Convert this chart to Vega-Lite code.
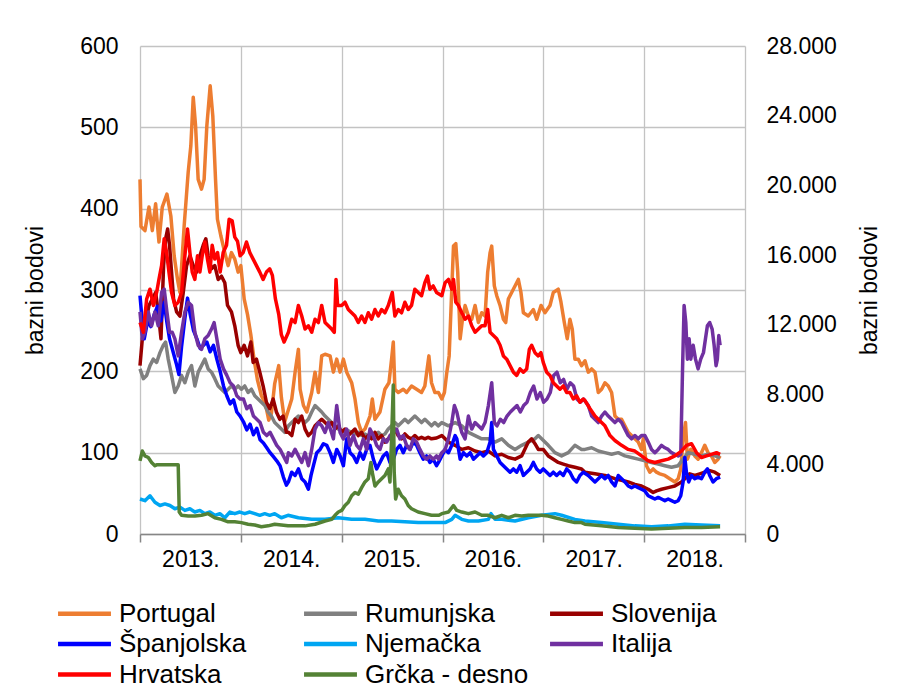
{
"$schema": "https://vega.github.io/schema/vega-lite/v6.json",
"width": 605,
"height": 488,
"padding": {"left": 24, "top": 35, "right": 5, "bottom": 5},
"background": "white",
"config": {"view": {"stroke": null}, "font": "Liberation Sans", "axis": {"labelFont": "Liberation Sans", "titleFont": "Liberation Sans", "labelColor": "black", "titleColor": "black", "titleFontWeight": "normal"}, "legend": {"labelFont": "Liberation Sans"}},
"datasets": {
"left": [
{"s":"Portugal","t":2013.000,"v":436},{"s":"Portugal","t":2013.010,"v":378},{"s":"Portugal","t":2013.049,"v":373},{"s":"Portugal","t":2013.089,"v":402},{"s":"Portugal","t":2013.122,"v":373},{"s":"Portugal","t":2013.155,"v":406},{"s":"Portugal","t":2013.188,"v":359},{"s":"Portugal","t":2013.221,"v":402},{"s":"Portugal","t":2013.267,"v":418},{"s":"Portugal","t":2013.306,"v":391},{"s":"Portugal","t":2013.339,"v":342},{"s":"Portugal","t":2013.372,"v":313},{"s":"Portugal","t":2013.396,"v":297},{"s":"Portugal","t":2013.438,"v":379},{"s":"Portugal","t":2013.478,"v":445},{"s":"Portugal","t":2013.504,"v":477},{"s":"Portugal","t":2013.528,"v":537},{"s":"Portugal","t":2013.551,"v":502},{"s":"Portugal","t":2013.577,"v":436},{"s":"Portugal","t":2013.610,"v":424},{"s":"Portugal","t":2013.636,"v":436},{"s":"Portugal","t":2013.663,"v":502},{"s":"Portugal","t":2013.696,"v":551},{"s":"Portugal","t":2013.722,"v":514},{"s":"Portugal","t":2013.749,"v":436},{"s":"Portugal","t":2013.768,"v":387},{"s":"Portugal","t":2013.801,"v":367},{"s":"Portugal","t":2013.841,"v":346},{"s":"Portugal","t":2013.874,"v":330},{"s":"Portugal","t":2013.907,"v":346},{"s":"Portugal","t":2013.940,"v":338},{"s":"Portugal","t":2013.973,"v":322},{"s":"Portugal","t":2014.000,"v":330},{"s":"Portugal","t":2014.033,"v":289},{"s":"Portugal","t":2014.066,"v":270},{"s":"Portugal","t":2014.099,"v":245},{"s":"Portugal","t":2014.131,"v":215},{"s":"Portugal","t":2014.164,"v":190},{"s":"Portugal","t":2014.204,"v":170},{"s":"Portugal","t":2014.244,"v":160},{"s":"Portugal","t":2014.277,"v":140},{"s":"Portugal","t":2014.303,"v":148},{"s":"Portugal","t":2014.336,"v":185},{"s":"Portugal","t":2014.376,"v":207},{"s":"Portugal","t":2014.402,"v":168},{"s":"Portugal","t":2014.435,"v":138},{"s":"Portugal","t":2014.505,"v":166},{"s":"Portugal","t":2014.538,"v":199},{"s":"Portugal","t":2014.571,"v":227},{"s":"Portugal","t":2014.588,"v":178},{"s":"Portugal","t":2014.621,"v":158},{"s":"Portugal","t":2014.654,"v":150},{"s":"Portugal","t":2014.703,"v":174},{"s":"Portugal","t":2014.736,"v":199},{"s":"Portugal","t":2014.769,"v":174},{"s":"Portugal","t":2014.802,"v":219},{"s":"Portugal","t":2014.835,"v":221},{"s":"Portugal","t":2014.885,"v":219},{"s":"Portugal","t":2014.918,"v":199},{"s":"Portugal","t":2014.951,"v":215},{"s":"Portugal","t":2014.984,"v":199},{"s":"Portugal","t":2015.017,"v":215},{"s":"Portugal","t":2015.050,"v":199},{"s":"Portugal","t":2015.099,"v":186},{"s":"Portugal","t":2015.132,"v":166},{"s":"Portugal","t":2015.165,"v":137},{"s":"Portugal","t":2015.198,"v":125},{"s":"Portugal","t":2015.231,"v":129},{"s":"Portugal","t":2015.281,"v":145},{"s":"Portugal","t":2015.304,"v":166},{"s":"Portugal","t":2015.330,"v":141},{"s":"Portugal","t":2015.380,"v":150},{"s":"Portugal","t":2015.429,"v":178},{"s":"Portugal","t":2015.469,"v":186},{"s":"Portugal","t":2015.495,"v":215},{"s":"Portugal","t":2015.512,"v":236},{"s":"Portugal","t":2015.528,"v":178},{"s":"Portugal","t":2015.561,"v":174},{"s":"Portugal","t":2015.611,"v":178},{"s":"Portugal","t":2015.644,"v":174},{"s":"Portugal","t":2015.693,"v":182},{"s":"Portugal","t":2015.743,"v":178},{"s":"Portugal","t":2015.792,"v":174},{"s":"Portugal","t":2015.825,"v":182},{"s":"Portugal","t":2015.865,"v":219},{"s":"Portugal","t":2015.891,"v":186},{"s":"Portugal","t":2015.924,"v":174},{"s":"Portugal","t":2015.960,"v":174},{"s":"Portugal","t":2015.993,"v":166},{"s":"Portugal","t":2016.019,"v":174},{"s":"Portugal","t":2016.043,"v":199},{"s":"Portugal","t":2016.066,"v":219},{"s":"Portugal","t":2016.092,"v":301},{"s":"Portugal","t":2016.109,"v":354},{"s":"Portugal","t":2016.132,"v":357},{"s":"Portugal","t":2016.151,"v":322},{"s":"Portugal","t":2016.175,"v":240},{"s":"Portugal","t":2016.198,"v":264},{"s":"Portugal","t":2016.224,"v":281},{"s":"Portugal","t":2016.257,"v":268},{"s":"Portugal","t":2016.290,"v":264},{"s":"Portugal","t":2016.323,"v":281},{"s":"Portugal","t":2016.356,"v":260},{"s":"Portugal","t":2016.389,"v":272},{"s":"Portugal","t":2016.422,"v":268},{"s":"Portugal","t":2016.448,"v":322},{"s":"Portugal","t":2016.472,"v":346},{"s":"Portugal","t":2016.488,"v":354},{"s":"Portugal","t":2016.514,"v":305},{"s":"Portugal","t":2016.538,"v":293},{"s":"Portugal","t":2016.571,"v":281},{"s":"Portugal","t":2016.604,"v":264},{"s":"Portugal","t":2016.627,"v":260},{"s":"Portugal","t":2016.653,"v":289},{"s":"Portugal","t":2016.686,"v":297},{"s":"Portugal","t":2016.719,"v":305},{"s":"Portugal","t":2016.752,"v":313},{"s":"Portugal","t":2016.778,"v":297},{"s":"Portugal","t":2016.802,"v":272},{"s":"Portugal","t":2016.851,"v":268},{"s":"Portugal","t":2016.901,"v":276},{"s":"Portugal","t":2016.934,"v":264},{"s":"Portugal","t":2016.977,"v":281},{"s":"Portugal","t":2017.016,"v":272},{"s":"Portugal","t":2017.066,"v":281},{"s":"Portugal","t":2017.099,"v":297},{"s":"Portugal","t":2017.148,"v":301},{"s":"Portugal","t":2017.175,"v":285},{"s":"Portugal","t":2017.208,"v":260},{"s":"Portugal","t":2017.237,"v":240},{"s":"Portugal","t":2017.264,"v":264},{"s":"Portugal","t":2017.287,"v":252},{"s":"Portugal","t":2017.313,"v":215},{"s":"Portugal","t":2017.346,"v":215},{"s":"Portugal","t":2017.379,"v":207},{"s":"Portugal","t":2017.413,"v":213},{"s":"Portugal","t":2017.446,"v":199},{"s":"Portugal","t":2017.479,"v":203},{"s":"Portugal","t":2017.512,"v":199},{"s":"Portugal","t":2017.545,"v":174},{"s":"Portugal","t":2017.578,"v":178},{"s":"Portugal","t":2017.611,"v":186},{"s":"Portugal","t":2017.644,"v":182},{"s":"Portugal","t":2017.677,"v":174},{"s":"Portugal","t":2017.710,"v":145},{"s":"Portugal","t":2017.743,"v":141},{"s":"Portugal","t":2017.776,"v":141},{"s":"Portugal","t":2017.809,"v":133},{"s":"Portugal","t":2017.842,"v":125},{"s":"Portugal","t":2017.875,"v":121},{"s":"Portugal","t":2017.908,"v":117},{"s":"Portugal","t":2017.941,"v":113},{"s":"Portugal","t":2017.974,"v":104},{"s":"Portugal","t":2017.991,"v":117},{"s":"Portugal","t":2018.023,"v":84},{"s":"Portugal","t":2018.056,"v":76},{"s":"Portugal","t":2018.089,"v":80},{"s":"Portugal","t":2018.122,"v":76},{"s":"Portugal","t":2018.155,"v":74},{"s":"Portugal","t":2018.205,"v":72},{"s":"Portugal","t":2018.254,"v":68},{"s":"Portugal","t":2018.304,"v":64},{"s":"Portugal","t":2018.337,"v":68},{"s":"Portugal","t":2018.363,"v":80},{"s":"Portugal","t":2018.386,"v":117},{"s":"Portugal","t":2018.410,"v":137},{"s":"Portugal","t":2018.429,"v":92},{"s":"Portugal","t":2018.462,"v":104},{"s":"Portugal","t":2018.502,"v":96},{"s":"Portugal","t":2018.535,"v":92},{"s":"Portugal","t":2018.568,"v":100},{"s":"Portugal","t":2018.601,"v":109},{"s":"Portugal","t":2018.634,"v":100},{"s":"Portugal","t":2018.667,"v":96},{"s":"Portugal","t":2018.700,"v":88},{"s":"Portugal","t":2018.733,"v":92},{"s":"Portugal","t":2018.753,"v":96},
{"s":"Rumunjska","t":2013.000,"v":203},{"s":"Rumunjska","t":2013.033,"v":191},{"s":"Rumunjska","t":2013.066,"v":195},{"s":"Rumunjska","t":2013.099,"v":207},{"s":"Rumunjska","t":2013.132,"v":215},{"s":"Rumunjska","t":2013.165,"v":211},{"s":"Rumunjska","t":2013.198,"v":223},{"s":"Rumunjska","t":2013.231,"v":232},{"s":"Rumunjska","t":2013.254,"v":236},{"s":"Rumunjska","t":2013.280,"v":215},{"s":"Rumunjska","t":2013.313,"v":195},{"s":"Rumunjska","t":2013.346,"v":174},{"s":"Rumunjska","t":2013.379,"v":182},{"s":"Rumunjska","t":2013.412,"v":195},{"s":"Rumunjska","t":2013.445,"v":186},{"s":"Rumunjska","t":2013.478,"v":199},{"s":"Rumunjska","t":2013.511,"v":207},{"s":"Rumunjska","t":2013.544,"v":182},{"s":"Rumunjska","t":2013.577,"v":199},{"s":"Rumunjska","t":2013.610,"v":207},{"s":"Rumunjska","t":2013.643,"v":215},{"s":"Rumunjska","t":2013.676,"v":203},{"s":"Rumunjska","t":2013.709,"v":199},{"s":"Rumunjska","t":2013.742,"v":191},{"s":"Rumunjska","t":2013.775,"v":182},{"s":"Rumunjska","t":2013.808,"v":178},{"s":"Rumunjska","t":2013.841,"v":174},{"s":"Rumunjska","t":2013.874,"v":178},{"s":"Rumunjska","t":2013.907,"v":182},{"s":"Rumunjska","t":2013.940,"v":178},{"s":"Rumunjska","t":2013.973,"v":182},{"s":"Rumunjska","t":2014.006,"v":178},{"s":"Rumunjska","t":2014.039,"v":182},{"s":"Rumunjska","t":2014.072,"v":174},{"s":"Rumunjska","t":2014.105,"v":178},{"s":"Rumunjska","t":2014.138,"v":170},{"s":"Rumunjska","t":2014.171,"v":166},{"s":"Rumunjska","t":2014.204,"v":162},{"s":"Rumunjska","t":2014.237,"v":158},{"s":"Rumunjska","t":2014.270,"v":150},{"s":"Rumunjska","t":2014.303,"v":145},{"s":"Rumunjska","t":2014.336,"v":137},{"s":"Rumunjska","t":2014.369,"v":133},{"s":"Rumunjska","t":2014.402,"v":129},{"s":"Rumunjska","t":2014.435,"v":125},{"s":"Rumunjska","t":2014.472,"v":133},{"s":"Rumunjska","t":2014.505,"v":137},{"s":"Rumunjska","t":2014.538,"v":141},{"s":"Rumunjska","t":2014.571,"v":145},{"s":"Rumunjska","t":2014.604,"v":141},{"s":"Rumunjska","t":2014.637,"v":137},{"s":"Rumunjska","t":2014.670,"v":141},{"s":"Rumunjska","t":2014.703,"v":150},{"s":"Rumunjska","t":2014.736,"v":158},{"s":"Rumunjska","t":2014.769,"v":154},{"s":"Rumunjska","t":2014.802,"v":150},{"s":"Rumunjska","t":2014.835,"v":145},{"s":"Rumunjska","t":2014.868,"v":141},{"s":"Rumunjska","t":2014.901,"v":137},{"s":"Rumunjska","t":2014.934,"v":133},{"s":"Rumunjska","t":2014.967,"v":129},{"s":"Rumunjska","t":2015.000,"v":127},{"s":"Rumunjska","t":2015.033,"v":125},{"s":"Rumunjska","t":2015.066,"v":127},{"s":"Rumunjska","t":2015.099,"v":125},{"s":"Rumunjska","t":2015.132,"v":123},{"s":"Rumunjska","t":2015.165,"v":125},{"s":"Rumunjska","t":2015.198,"v":121},{"s":"Rumunjska","t":2015.231,"v":123},{"s":"Rumunjska","t":2015.264,"v":121},{"s":"Rumunjska","t":2015.297,"v":119},{"s":"Rumunjska","t":2015.330,"v":121},{"s":"Rumunjska","t":2015.363,"v":125},{"s":"Rumunjska","t":2015.396,"v":121},{"s":"Rumunjska","t":2015.429,"v":123},{"s":"Rumunjska","t":2015.462,"v":129},{"s":"Rumunjska","t":2015.495,"v":133},{"s":"Rumunjska","t":2015.528,"v":137},{"s":"Rumunjska","t":2015.561,"v":133},{"s":"Rumunjska","t":2015.594,"v":137},{"s":"Rumunjska","t":2015.627,"v":141},{"s":"Rumunjska","t":2015.660,"v":137},{"s":"Rumunjska","t":2015.693,"v":141},{"s":"Rumunjska","t":2015.726,"v":145},{"s":"Rumunjska","t":2015.759,"v":141},{"s":"Rumunjska","t":2015.792,"v":137},{"s":"Rumunjska","t":2015.825,"v":141},{"s":"Rumunjska","t":2015.858,"v":137},{"s":"Rumunjska","t":2015.891,"v":133},{"s":"Rumunjska","t":2015.924,"v":137},{"s":"Rumunjska","t":2015.957,"v":133},{"s":"Rumunjska","t":2015.993,"v":137},{"s":"Rumunjska","t":2016.059,"v":133},{"s":"Rumunjska","t":2016.125,"v":137},{"s":"Rumunjska","t":2016.191,"v":133},{"s":"Rumunjska","t":2016.257,"v":125},{"s":"Rumunjska","t":2016.323,"v":121},{"s":"Rumunjska","t":2016.389,"v":117},{"s":"Rumunjska","t":2016.455,"v":117},{"s":"Rumunjska","t":2016.521,"v":113},{"s":"Rumunjska","t":2016.587,"v":117},{"s":"Rumunjska","t":2016.653,"v":109},{"s":"Rumunjska","t":2016.719,"v":104},{"s":"Rumunjska","t":2016.785,"v":109},{"s":"Rumunjska","t":2016.851,"v":113},{"s":"Rumunjska","t":2016.917,"v":117},{"s":"Rumunjska","t":2016.950,"v":121},{"s":"Rumunjska","t":2016.983,"v":117},{"s":"Rumunjska","t":2017.049,"v":109},{"s":"Rumunjska","t":2017.115,"v":100},{"s":"Rumunjska","t":2017.181,"v":96},{"s":"Rumunjska","t":2017.247,"v":100},{"s":"Rumunjska","t":2017.313,"v":109},{"s":"Rumunjska","t":2017.379,"v":104},{"s":"Rumunjska","t":2017.413,"v":104},{"s":"Rumunjska","t":2017.479,"v":106},{"s":"Rumunjska","t":2017.545,"v":102},{"s":"Rumunjska","t":2017.611,"v":100},{"s":"Rumunjska","t":2017.677,"v":98},{"s":"Rumunjska","t":2017.743,"v":100},{"s":"Rumunjska","t":2017.809,"v":96},{"s":"Rumunjska","t":2017.875,"v":94},{"s":"Rumunjska","t":2017.941,"v":92},{"s":"Rumunjska","t":2018.007,"v":90},{"s":"Rumunjska","t":2018.073,"v":88},{"s":"Rumunjska","t":2018.139,"v":86},{"s":"Rumunjska","t":2018.205,"v":84},{"s":"Rumunjska","t":2018.271,"v":82},{"s":"Rumunjska","t":2018.337,"v":84},{"s":"Rumunjska","t":2018.386,"v":92},{"s":"Rumunjska","t":2018.436,"v":100},{"s":"Rumunjska","t":2018.502,"v":98},{"s":"Rumunjska","t":2018.568,"v":96},{"s":"Rumunjska","t":2018.634,"v":98},{"s":"Rumunjska","t":2018.700,"v":96},{"s":"Rumunjska","t":2018.753,"v":94},
{"s":"Slovenija","t":2013.000,"v":207},{"s":"Slovenija","t":2013.023,"v":240},{"s":"Slovenija","t":2013.056,"v":260},{"s":"Slovenija","t":2013.089,"v":281},{"s":"Slovenija","t":2013.122,"v":289},{"s":"Slovenija","t":2013.155,"v":297},{"s":"Slovenija","t":2013.181,"v":273},{"s":"Slovenija","t":2013.208,"v":240},{"s":"Slovenija","t":2013.234,"v":330},{"s":"Slovenija","t":2013.254,"v":363},{"s":"Slovenija","t":2013.274,"v":375},{"s":"Slovenija","t":2013.293,"v":355},{"s":"Slovenija","t":2013.313,"v":322},{"s":"Slovenija","t":2013.333,"v":289},{"s":"Slovenija","t":2013.363,"v":273},{"s":"Slovenija","t":2013.396,"v":268},{"s":"Slovenija","t":2013.429,"v":297},{"s":"Slovenija","t":2013.462,"v":330},{"s":"Slovenija","t":2013.495,"v":342},{"s":"Slovenija","t":2013.528,"v":330},{"s":"Slovenija","t":2013.561,"v":322},{"s":"Slovenija","t":2013.594,"v":342},{"s":"Slovenija","t":2013.627,"v":355},{"s":"Slovenija","t":2013.653,"v":363},{"s":"Slovenija","t":2013.676,"v":342},{"s":"Slovenija","t":2013.709,"v":326},{"s":"Slovenija","t":2013.742,"v":330},{"s":"Slovenija","t":2013.775,"v":313},{"s":"Slovenija","t":2013.808,"v":317},{"s":"Slovenija","t":2013.841,"v":309},{"s":"Slovenija","t":2013.868,"v":281},{"s":"Slovenija","t":2013.907,"v":273},{"s":"Slovenija","t":2013.940,"v":256},{"s":"Slovenija","t":2013.973,"v":232},{"s":"Slovenija","t":2014.000,"v":223},{"s":"Slovenija","t":2014.033,"v":232},{"s":"Slovenija","t":2014.066,"v":219},{"s":"Slovenija","t":2014.099,"v":236},{"s":"Slovenija","t":2014.122,"v":211},{"s":"Slovenija","t":2014.155,"v":215},{"s":"Slovenija","t":2014.188,"v":199},{"s":"Slovenija","t":2014.221,"v":182},{"s":"Slovenija","t":2014.254,"v":162},{"s":"Slovenija","t":2014.287,"v":154},{"s":"Slovenija","t":2014.320,"v":166},{"s":"Slovenija","t":2014.353,"v":150},{"s":"Slovenija","t":2014.386,"v":141},{"s":"Slovenija","t":2014.419,"v":145},{"s":"Slovenija","t":2014.452,"v":125},{"s":"Slovenija","t":2014.472,"v":125},{"s":"Slovenija","t":2014.505,"v":121},{"s":"Slovenija","t":2014.538,"v":141},{"s":"Slovenija","t":2014.571,"v":137},{"s":"Slovenija","t":2014.604,"v":145},{"s":"Slovenija","t":2014.637,"v":129},{"s":"Slovenija","t":2014.670,"v":121},{"s":"Slovenija","t":2014.703,"v":125},{"s":"Slovenija","t":2014.736,"v":133},{"s":"Slovenija","t":2014.769,"v":137},{"s":"Slovenija","t":2014.802,"v":141},{"s":"Slovenija","t":2014.835,"v":137},{"s":"Slovenija","t":2014.868,"v":133},{"s":"Slovenija","t":2014.901,"v":137},{"s":"Slovenija","t":2014.934,"v":129},{"s":"Slovenija","t":2014.967,"v":133},{"s":"Slovenija","t":2015.000,"v":125},{"s":"Slovenija","t":2015.033,"v":129},{"s":"Slovenija","t":2015.066,"v":121},{"s":"Slovenija","t":2015.099,"v":125},{"s":"Slovenija","t":2015.132,"v":129},{"s":"Slovenija","t":2015.165,"v":121},{"s":"Slovenija","t":2015.198,"v":125},{"s":"Slovenija","t":2015.231,"v":117},{"s":"Slovenija","t":2015.264,"v":121},{"s":"Slovenija","t":2015.297,"v":117},{"s":"Slovenija","t":2015.330,"v":125},{"s":"Slovenija","t":2015.363,"v":117},{"s":"Slovenija","t":2015.396,"v":121},{"s":"Slovenija","t":2015.429,"v":113},{"s":"Slovenija","t":2015.462,"v":117},{"s":"Slovenija","t":2015.495,"v":119},{"s":"Slovenija","t":2015.528,"v":129},{"s":"Slovenija","t":2015.561,"v":121},{"s":"Slovenija","t":2015.594,"v":117},{"s":"Slovenija","t":2015.627,"v":123},{"s":"Slovenija","t":2015.660,"v":119},{"s":"Slovenija","t":2015.693,"v":117},{"s":"Slovenija","t":2015.726,"v":121},{"s":"Slovenija","t":2015.759,"v":117},{"s":"Slovenija","t":2015.792,"v":119},{"s":"Slovenija","t":2015.825,"v":117},{"s":"Slovenija","t":2015.858,"v":119},{"s":"Slovenija","t":2015.891,"v":117},{"s":"Slovenija","t":2015.941,"v":118},{"s":"Slovenija","t":2015.993,"v":121},{"s":"Slovenija","t":2016.059,"v":113},{"s":"Slovenija","t":2016.125,"v":109},{"s":"Slovenija","t":2016.191,"v":104},{"s":"Slovenija","t":2016.257,"v":106},{"s":"Slovenija","t":2016.323,"v":102},{"s":"Slovenija","t":2016.389,"v":100},{"s":"Slovenija","t":2016.455,"v":102},{"s":"Slovenija","t":2016.521,"v":96},{"s":"Slovenija","t":2016.587,"v":98},{"s":"Slovenija","t":2016.653,"v":94},{"s":"Slovenija","t":2016.719,"v":92},{"s":"Slovenija","t":2016.785,"v":96},{"s":"Slovenija","t":2016.851,"v":113},{"s":"Slovenija","t":2016.884,"v":117},{"s":"Slovenija","t":2016.917,"v":111},{"s":"Slovenija","t":2016.950,"v":104},{"s":"Slovenija","t":2016.999,"v":104},{"s":"Slovenija","t":2017.049,"v":96},{"s":"Slovenija","t":2017.099,"v":92},{"s":"Slovenija","t":2017.148,"v":88},{"s":"Slovenija","t":2017.198,"v":86},{"s":"Slovenija","t":2017.247,"v":84},{"s":"Slovenija","t":2017.313,"v":82},{"s":"Slovenija","t":2017.379,"v":80},{"s":"Slovenija","t":2017.413,"v":76},{"s":"Slovenija","t":2017.512,"v":74},{"s":"Slovenija","t":2017.611,"v":72},{"s":"Slovenija","t":2017.710,"v":68},{"s":"Slovenija","t":2017.776,"v":66},{"s":"Slovenija","t":2017.842,"v":64},{"s":"Slovenija","t":2017.908,"v":61},{"s":"Slovenija","t":2017.974,"v":59},{"s":"Slovenija","t":2018.040,"v":55},{"s":"Slovenija","t":2018.089,"v":51},{"s":"Slovenija","t":2018.122,"v":53},{"s":"Slovenija","t":2018.172,"v":55},{"s":"Slovenija","t":2018.238,"v":57},{"s":"Slovenija","t":2018.304,"v":59},{"s":"Slovenija","t":2018.370,"v":64},{"s":"Slovenija","t":2018.403,"v":68},{"s":"Slovenija","t":2018.452,"v":74},{"s":"Slovenija","t":2018.502,"v":72},{"s":"Slovenija","t":2018.551,"v":74},{"s":"Slovenija","t":2018.601,"v":76},{"s":"Slovenija","t":2018.651,"v":78},{"s":"Slovenija","t":2018.700,"v":76},{"s":"Slovenija","t":2018.753,"v":72},
{"s":"Španjolska","t":2013.000,"v":293},{"s":"Španjolska","t":2013.016,"v":270},{"s":"Španjolska","t":2013.042,"v":240},{"s":"Španjolska","t":2013.076,"v":262},{"s":"Španjolska","t":2013.108,"v":255},{"s":"Španjolska","t":2013.141,"v":270},{"s":"Španjolska","t":2013.174,"v":280},{"s":"Španjolska","t":2013.207,"v":262},{"s":"Španjolska","t":2013.240,"v":285},{"s":"Španjolska","t":2013.267,"v":260},{"s":"Španjolska","t":2013.293,"v":240},{"s":"Španjolska","t":2013.326,"v":225},{"s":"Španjolska","t":2013.359,"v":210},{"s":"Španjolska","t":2013.386,"v":196},{"s":"Španjolska","t":2013.412,"v":230},{"s":"Španjolska","t":2013.445,"v":265},{"s":"Španjolska","t":2013.471,"v":290},{"s":"Španjolska","t":2013.498,"v":270},{"s":"Španjolska","t":2013.531,"v":250},{"s":"Španjolska","t":2013.564,"v":240},{"s":"Španjolska","t":2013.597,"v":228},{"s":"Španjolska","t":2013.630,"v":232},{"s":"Španjolska","t":2013.663,"v":236},{"s":"Španjolska","t":2013.696,"v":224},{"s":"Španjolska","t":2013.729,"v":232},{"s":"Španjolska","t":2013.762,"v":215},{"s":"Španjolska","t":2013.795,"v":200},{"s":"Španjolska","t":2013.828,"v":182},{"s":"Španjolska","t":2013.861,"v":170},{"s":"Španjolska","t":2013.894,"v":160},{"s":"Španjolska","t":2013.927,"v":165},{"s":"Španjolska","t":2013.960,"v":150},{"s":"Španjolska","t":2013.993,"v":145},{"s":"Španjolska","t":2014.026,"v":138},{"s":"Španjolska","t":2014.059,"v":128},{"s":"Španjolska","t":2014.092,"v":135},{"s":"Španjolska","t":2014.125,"v":122},{"s":"Španjolska","t":2014.158,"v":130},{"s":"Španjolska","t":2014.191,"v":116},{"s":"Španjolska","t":2014.224,"v":112},{"s":"Španjolska","t":2014.257,"v":106},{"s":"Španjolska","t":2014.290,"v":100},{"s":"Španjolska","t":2014.323,"v":95},{"s":"Španjolska","t":2014.356,"v":90},{"s":"Španjolska","t":2014.389,"v":84},{"s":"Španjolska","t":2014.422,"v":70},{"s":"Španjolska","t":2014.452,"v":60},{"s":"Španjolska","t":2014.472,"v":64},{"s":"Španjolska","t":2014.505,"v":76},{"s":"Španjolska","t":2014.538,"v":72},{"s":"Španjolska","t":2014.571,"v":80},{"s":"Španjolska","t":2014.604,"v":68},{"s":"Španjolska","t":2014.637,"v":64},{"s":"Španjolska","t":2014.670,"v":55},{"s":"Španjolska","t":2014.696,"v":72},{"s":"Španjolska","t":2014.720,"v":84},{"s":"Španjolska","t":2014.753,"v":100},{"s":"Španjolska","t":2014.786,"v":104},{"s":"Španjolska","t":2014.819,"v":111},{"s":"Španjolska","t":2014.852,"v":109},{"s":"Španjolska","t":2014.885,"v":100},{"s":"Španjolska","t":2014.918,"v":88},{"s":"Španjolska","t":2014.951,"v":104},{"s":"Španjolska","t":2014.984,"v":96},{"s":"Španjolska","t":2015.017,"v":84},{"s":"Španjolska","t":2015.050,"v":117},{"s":"Španjolska","t":2015.083,"v":100},{"s":"Španjolska","t":2015.116,"v":96},{"s":"Španjolska","t":2015.149,"v":88},{"s":"Španjolska","t":2015.182,"v":100},{"s":"Španjolska","t":2015.215,"v":92},{"s":"Španjolska","t":2015.248,"v":104},{"s":"Španjolska","t":2015.281,"v":109},{"s":"Španjolska","t":2015.314,"v":92},{"s":"Španjolska","t":2015.347,"v":80},{"s":"Španjolska","t":2015.380,"v":88},{"s":"Španjolska","t":2015.413,"v":96},{"s":"Španjolska","t":2015.446,"v":100},{"s":"Španjolska","t":2015.479,"v":88},{"s":"Španjolska","t":2015.512,"v":92},{"s":"Španjolska","t":2015.545,"v":104},{"s":"Španjolska","t":2015.578,"v":109},{"s":"Španjolska","t":2015.611,"v":100},{"s":"Španjolska","t":2015.644,"v":109},{"s":"Španjolska","t":2015.677,"v":104},{"s":"Španjolska","t":2015.710,"v":113},{"s":"Španjolska","t":2015.743,"v":109},{"s":"Španjolska","t":2015.776,"v":100},{"s":"Španjolska","t":2015.809,"v":92},{"s":"Španjolska","t":2015.842,"v":96},{"s":"Španjolska","t":2015.875,"v":88},{"s":"Španjolska","t":2015.908,"v":92},{"s":"Španjolska","t":2015.941,"v":84},{"s":"Španjolska","t":2015.960,"v":88},{"s":"Španjolska","t":2015.993,"v":96},{"s":"Španjolska","t":2016.026,"v":104},{"s":"Španjolska","t":2016.059,"v":100},{"s":"Španjolska","t":2016.092,"v":109},{"s":"Španjolska","t":2016.125,"v":121},{"s":"Španjolska","t":2016.142,"v":117},{"s":"Španjolska","t":2016.175,"v":92},{"s":"Španjolska","t":2016.208,"v":100},{"s":"Španjolska","t":2016.241,"v":96},{"s":"Španjolska","t":2016.274,"v":100},{"s":"Španjolska","t":2016.307,"v":92},{"s":"Španjolska","t":2016.340,"v":96},{"s":"Španjolska","t":2016.373,"v":100},{"s":"Španjolska","t":2016.406,"v":96},{"s":"Španjolska","t":2016.439,"v":100},{"s":"Španjolska","t":2016.472,"v":113},{"s":"Španjolska","t":2016.488,"v":137},{"s":"Španjolska","t":2016.505,"v":104},{"s":"Španjolska","t":2016.538,"v":96},{"s":"Španjolska","t":2016.571,"v":88},{"s":"Španjolska","t":2016.604,"v":84},{"s":"Španjolska","t":2016.637,"v":80},{"s":"Španjolska","t":2016.670,"v":76},{"s":"Španjolska","t":2016.703,"v":80},{"s":"Španjolska","t":2016.736,"v":76},{"s":"Španjolska","t":2016.769,"v":84},{"s":"Španjolska","t":2016.802,"v":72},{"s":"Španjolska","t":2016.835,"v":76},{"s":"Španjolska","t":2016.868,"v":80},{"s":"Španjolska","t":2016.901,"v":88},{"s":"Španjolska","t":2016.934,"v":80},{"s":"Španjolska","t":2016.967,"v":76},{"s":"Španjolska","t":2016.999,"v":80},{"s":"Španjolska","t":2017.033,"v":76},{"s":"Španjolska","t":2017.066,"v":72},{"s":"Španjolska","t":2017.099,"v":76},{"s":"Španjolska","t":2017.132,"v":72},{"s":"Španjolska","t":2017.165,"v":76},{"s":"Španjolska","t":2017.198,"v":72},{"s":"Španjolska","t":2017.231,"v":80},{"s":"Španjolska","t":2017.264,"v":76},{"s":"Španjolska","t":2017.297,"v":68},{"s":"Španjolska","t":2017.330,"v":64},{"s":"Španjolska","t":2017.363,"v":72},{"s":"Španjolska","t":2017.396,"v":76},{"s":"Španjolska","t":2017.446,"v":72},{"s":"Španjolska","t":2017.479,"v":68},{"s":"Španjolska","t":2017.512,"v":64},{"s":"Španjolska","t":2017.545,"v":68},{"s":"Španjolska","t":2017.578,"v":72},{"s":"Španjolska","t":2017.611,"v":68},{"s":"Španjolska","t":2017.644,"v":72},{"s":"Španjolska","t":2017.677,"v":64},{"s":"Španjolska","t":2017.710,"v":59},{"s":"Španjolska","t":2017.743,"v":72},{"s":"Španjolska","t":2017.776,"v":68},{"s":"Španjolska","t":2017.809,"v":64},{"s":"Španjolska","t":2017.842,"v":59},{"s":"Španjolska","t":2017.875,"v":57},{"s":"Španjolska","t":2017.908,"v":59},{"s":"Španjolska","t":2017.941,"v":57},{"s":"Španjolska","t":2017.974,"v":55},{"s":"Španjolska","t":2018.007,"v":53},{"s":"Španjolska","t":2018.040,"v":47},{"s":"Španjolska","t":2018.073,"v":45},{"s":"Španjolska","t":2018.106,"v":43},{"s":"Španjolska","t":2018.139,"v":45},{"s":"Španjolska","t":2018.172,"v":43},{"s":"Španjolska","t":2018.205,"v":41},{"s":"Španjolska","t":2018.238,"v":43},{"s":"Španjolska","t":2018.271,"v":41},{"s":"Španjolska","t":2018.304,"v":39},{"s":"Španjolska","t":2018.337,"v":41},{"s":"Španjolska","t":2018.363,"v":47},{"s":"Španjolska","t":2018.386,"v":64},{"s":"Španjolska","t":2018.403,"v":94},{"s":"Španjolska","t":2018.419,"v":76},{"s":"Španjolska","t":2018.442,"v":64},{"s":"Španjolska","t":2018.469,"v":72},{"s":"Španjolska","t":2018.502,"v":68},{"s":"Španjolska","t":2018.535,"v":70},{"s":"Španjolska","t":2018.568,"v":68},{"s":"Španjolska","t":2018.601,"v":76},{"s":"Španjolska","t":2018.627,"v":80},{"s":"Španjolska","t":2018.650,"v":72},{"s":"Španjolska","t":2018.683,"v":64},{"s":"Španjolska","t":2018.716,"v":68},{"s":"Španjolska","t":2018.753,"v":70},
{"s":"Njemačka","t":2013.000,"v":43},{"s":"Njemačka","t":2013.049,"v":41},{"s":"Njemačka","t":2013.099,"v":47},{"s":"Njemačka","t":2013.148,"v":39},{"s":"Njemačka","t":2013.198,"v":35},{"s":"Njemačka","t":2013.247,"v":37},{"s":"Njemačka","t":2013.297,"v":35},{"s":"Njemačka","t":2013.346,"v":31},{"s":"Njemačka","t":2013.396,"v":33},{"s":"Njemačka","t":2013.445,"v":29},{"s":"Njemačka","t":2013.495,"v":31},{"s":"Njemačka","t":2013.544,"v":27},{"s":"Njemačka","t":2013.594,"v":29},{"s":"Njemačka","t":2013.643,"v":25},{"s":"Njemačka","t":2013.693,"v":27},{"s":"Njemačka","t":2013.742,"v":23},{"s":"Njemačka","t":2013.792,"v":25},{"s":"Njemačka","t":2013.841,"v":20},{"s":"Njemačka","t":2013.891,"v":27},{"s":"Njemačka","t":2013.940,"v":25},{"s":"Njemačka","t":2013.990,"v":27},{"s":"Njemačka","t":2014.039,"v":25},{"s":"Njemačka","t":2014.089,"v":27},{"s":"Njemačka","t":2014.138,"v":25},{"s":"Njemačka","t":2014.188,"v":23},{"s":"Njemačka","t":2014.237,"v":25},{"s":"Njemačka","t":2014.287,"v":23},{"s":"Njemačka","t":2014.336,"v":25},{"s":"Njemačka","t":2014.402,"v":20},{"s":"Njemačka","t":2014.468,"v":23},{"s":"Njemačka","t":2014.571,"v":20},{"s":"Njemačka","t":2014.703,"v":18},{"s":"Njemačka","t":2014.835,"v":18},{"s":"Njemačka","t":2014.967,"v":20},{"s":"Njemačka","t":2015.099,"v":18},{"s":"Njemačka","t":2015.231,"v":18},{"s":"Njemačka","t":2015.363,"v":16},{"s":"Njemačka","t":2015.495,"v":16},{"s":"Njemačka","t":2015.627,"v":15},{"s":"Njemačka","t":2015.759,"v":14},{"s":"Njemačka","t":2015.891,"v":14},{"s":"Njemačka","t":2016.026,"v":14},{"s":"Njemačka","t":2016.092,"v":18},{"s":"Njemačka","t":2016.125,"v":23},{"s":"Njemačka","t":2016.191,"v":18},{"s":"Njemačka","t":2016.257,"v":16},{"s":"Njemačka","t":2016.356,"v":16},{"s":"Njemačka","t":2016.455,"v":18},{"s":"Njemačka","t":2016.481,"v":25},{"s":"Njemačka","t":2016.521,"v":18},{"s":"Njemačka","t":2016.587,"v":18},{"s":"Njemačka","t":2016.719,"v":16},{"s":"Njemačka","t":2016.851,"v":20},{"s":"Njemačka","t":2016.983,"v":23},{"s":"Njemačka","t":2017.115,"v":25},{"s":"Njemačka","t":2017.181,"v":23},{"s":"Njemačka","t":2017.313,"v":18},{"s":"Njemačka","t":2017.413,"v":16},{"s":"Njemačka","t":2017.578,"v":14},{"s":"Njemačka","t":2017.743,"v":12},{"s":"Njemačka","t":2017.908,"v":10},{"s":"Njemačka","t":2018.073,"v":9},{"s":"Njemačka","t":2018.238,"v":10},{"s":"Njemačka","t":2018.403,"v":12},{"s":"Njemačka","t":2018.568,"v":11},{"s":"Njemačka","t":2018.753,"v":10},
{"s":"Italija","t":2013.000,"v":273},{"s":"Italija","t":2013.023,"v":240},{"s":"Italija","t":2013.049,"v":248},{"s":"Italija","t":2013.082,"v":273},{"s":"Italija","t":2013.115,"v":256},{"s":"Italija","t":2013.148,"v":273},{"s":"Italija","t":2013.181,"v":256},{"s":"Italija","t":2013.214,"v":297},{"s":"Italija","t":2013.240,"v":301},{"s":"Italija","t":2013.267,"v":273},{"s":"Italija","t":2013.293,"v":248},{"s":"Italija","t":2013.320,"v":248},{"s":"Italija","t":2013.346,"v":240},{"s":"Italija","t":2013.379,"v":219},{"s":"Italija","t":2013.412,"v":248},{"s":"Italija","t":2013.445,"v":273},{"s":"Italija","t":2013.478,"v":285},{"s":"Italija","t":2013.511,"v":281},{"s":"Italija","t":2013.544,"v":248},{"s":"Italija","t":2013.577,"v":232},{"s":"Italija","t":2013.610,"v":227},{"s":"Italija","t":2013.643,"v":240},{"s":"Italija","t":2013.676,"v":244},{"s":"Italija","t":2013.709,"v":252},{"s":"Italija","t":2013.735,"v":260},{"s":"Italija","t":2013.762,"v":240},{"s":"Italija","t":2013.795,"v":215},{"s":"Italija","t":2013.828,"v":203},{"s":"Italija","t":2013.861,"v":195},{"s":"Italija","t":2013.894,"v":186},{"s":"Italija","t":2013.927,"v":182},{"s":"Italija","t":2013.960,"v":170},{"s":"Italija","t":2013.993,"v":166},{"s":"Italija","t":2014.026,"v":166},{"s":"Italija","t":2014.059,"v":154},{"s":"Italija","t":2014.092,"v":158},{"s":"Italija","t":2014.125,"v":145},{"s":"Italija","t":2014.158,"v":141},{"s":"Italija","t":2014.191,"v":137},{"s":"Italija","t":2014.224,"v":125},{"s":"Italija","t":2014.257,"v":121},{"s":"Italija","t":2014.290,"v":125},{"s":"Italija","t":2014.323,"v":117},{"s":"Italija","t":2014.356,"v":109},{"s":"Italija","t":2014.389,"v":104},{"s":"Italija","t":2014.422,"v":96},{"s":"Italija","t":2014.455,"v":88},{"s":"Italija","t":2014.472,"v":100},{"s":"Italija","t":2014.505,"v":96},{"s":"Italija","t":2014.538,"v":104},{"s":"Italija","t":2014.571,"v":96},{"s":"Italija","t":2014.604,"v":88},{"s":"Italija","t":2014.637,"v":100},{"s":"Italija","t":2014.670,"v":84},{"s":"Italija","t":2014.703,"v":104},{"s":"Italija","t":2014.736,"v":129},{"s":"Italija","t":2014.769,"v":137},{"s":"Italija","t":2014.802,"v":133},{"s":"Italija","t":2014.835,"v":125},{"s":"Italija","t":2014.868,"v":137},{"s":"Italija","t":2014.918,"v":117},{"s":"Italija","t":2014.951,"v":158},{"s":"Italija","t":2014.984,"v":125},{"s":"Italija","t":2015.017,"v":117},{"s":"Italija","t":2015.050,"v":129},{"s":"Italija","t":2015.083,"v":109},{"s":"Italija","t":2015.116,"v":121},{"s":"Italija","t":2015.149,"v":109},{"s":"Italija","t":2015.182,"v":104},{"s":"Italija","t":2015.215,"v":117},{"s":"Italija","t":2015.248,"v":104},{"s":"Italija","t":2015.281,"v":129},{"s":"Italija","t":2015.314,"v":121},{"s":"Italija","t":2015.347,"v":109},{"s":"Italija","t":2015.380,"v":104},{"s":"Italija","t":2015.413,"v":117},{"s":"Italija","t":2015.446,"v":113},{"s":"Italija","t":2015.479,"v":121},{"s":"Italija","t":2015.512,"v":125},{"s":"Italija","t":2015.545,"v":129},{"s":"Italija","t":2015.578,"v":117},{"s":"Italija","t":2015.611,"v":121},{"s":"Italija","t":2015.644,"v":109},{"s":"Italija","t":2015.677,"v":104},{"s":"Italija","t":2015.710,"v":117},{"s":"Italija","t":2015.743,"v":113},{"s":"Italija","t":2015.776,"v":104},{"s":"Italija","t":2015.809,"v":96},{"s":"Italija","t":2015.842,"v":92},{"s":"Italija","t":2015.875,"v":96},{"s":"Italija","t":2015.908,"v":92},{"s":"Italija","t":2015.941,"v":96},{"s":"Italija","t":2015.960,"v":92},{"s":"Italija","t":2015.993,"v":100},{"s":"Italija","t":2016.026,"v":104},{"s":"Italija","t":2016.059,"v":117},{"s":"Italija","t":2016.092,"v":137},{"s":"Italija","t":2016.118,"v":158},{"s":"Italija","t":2016.142,"v":150},{"s":"Italija","t":2016.165,"v":137},{"s":"Italija","t":2016.191,"v":125},{"s":"Italija","t":2016.224,"v":117},{"s":"Italija","t":2016.257,"v":145},{"s":"Italija","t":2016.290,"v":129},{"s":"Italija","t":2016.323,"v":137},{"s":"Italija","t":2016.356,"v":133},{"s":"Italija","t":2016.389,"v":129},{"s":"Italija","t":2016.422,"v":137},{"s":"Italija","t":2016.455,"v":158},{"s":"Italija","t":2016.488,"v":186},{"s":"Italija","t":2016.514,"v":137},{"s":"Italija","t":2016.541,"v":133},{"s":"Italija","t":2016.574,"v":141},{"s":"Italija","t":2016.607,"v":137},{"s":"Italija","t":2016.640,"v":145},{"s":"Italija","t":2016.673,"v":150},{"s":"Italija","t":2016.706,"v":154},{"s":"Italija","t":2016.739,"v":158},{"s":"Italija","t":2016.772,"v":150},{"s":"Italija","t":2016.805,"v":158},{"s":"Italija","t":2016.838,"v":162},{"s":"Italija","t":2016.871,"v":174},{"s":"Italija","t":2016.904,"v":182},{"s":"Italija","t":2016.937,"v":166},{"s":"Italija","t":2016.970,"v":174},{"s":"Italija","t":2017.003,"v":162},{"s":"Italija","t":2017.036,"v":166},{"s":"Italija","t":2017.069,"v":174},{"s":"Italija","t":2017.102,"v":195},{"s":"Italija","t":2017.135,"v":199},{"s":"Italija","t":2017.168,"v":186},{"s":"Italija","t":2017.201,"v":190},{"s":"Italija","t":2017.234,"v":178},{"s":"Italija","t":2017.267,"v":186},{"s":"Italija","t":2017.300,"v":182},{"s":"Italija","t":2017.333,"v":166},{"s":"Italija","t":2017.366,"v":162},{"s":"Italija","t":2017.399,"v":166},{"s":"Italija","t":2017.446,"v":158},{"s":"Italija","t":2017.479,"v":145},{"s":"Italija","t":2017.512,"v":141},{"s":"Italija","t":2017.545,"v":137},{"s":"Italija","t":2017.578,"v":145},{"s":"Italija","t":2017.611,"v":150},{"s":"Italija","t":2017.644,"v":145},{"s":"Italija","t":2017.677,"v":141},{"s":"Italija","t":2017.710,"v":137},{"s":"Italija","t":2017.743,"v":141},{"s":"Italija","t":2017.776,"v":137},{"s":"Italija","t":2017.809,"v":129},{"s":"Italija","t":2017.842,"v":121},{"s":"Italija","t":2017.875,"v":117},{"s":"Italija","t":2017.908,"v":121},{"s":"Italija","t":2017.941,"v":117},{"s":"Italija","t":2017.974,"v":121},{"s":"Italija","t":2018.007,"v":121},{"s":"Italija","t":2018.040,"v":113},{"s":"Italija","t":2018.073,"v":104},{"s":"Italija","t":2018.106,"v":100},{"s":"Italija","t":2018.139,"v":104},{"s":"Italija","t":2018.172,"v":109},{"s":"Italija","t":2018.205,"v":106},{"s":"Italija","t":2018.238,"v":104},{"s":"Italija","t":2018.271,"v":100},{"s":"Italija","t":2018.304,"v":98},{"s":"Italija","t":2018.337,"v":96},{"s":"Italija","t":2018.363,"v":98},{"s":"Italija","t":2018.380,"v":199},{"s":"Italija","t":2018.396,"v":281},{"s":"Italija","t":2018.413,"v":260},{"s":"Italija","t":2018.429,"v":215},{"s":"Italija","t":2018.446,"v":240},{"s":"Italija","t":2018.462,"v":215},{"s":"Italija","t":2018.486,"v":232},{"s":"Italija","t":2018.509,"v":215},{"s":"Italija","t":2018.535,"v":203},{"s":"Italija","t":2018.561,"v":215},{"s":"Italija","t":2018.588,"v":223},{"s":"Italija","t":2018.608,"v":240},{"s":"Italija","t":2018.627,"v":256},{"s":"Italija","t":2018.650,"v":260},{"s":"Italija","t":2018.674,"v":252},{"s":"Italija","t":2018.694,"v":232},{"s":"Italija","t":2018.713,"v":207},{"s":"Italija","t":2018.726,"v":215},{"s":"Italija","t":2018.740,"v":244},{"s":"Italija","t":2018.753,"v":232},
{"s":"Hrvatska","t":2013.000,"v":260},{"s":"Hrvatska","t":2013.033,"v":248},{"s":"Hrvatska","t":2013.066,"v":289},{"s":"Hrvatska","t":2013.099,"v":301},{"s":"Hrvatska","t":2013.132,"v":281},{"s":"Hrvatska","t":2013.165,"v":297},{"s":"Hrvatska","t":2013.188,"v":313},{"s":"Hrvatska","t":2013.214,"v":330},{"s":"Hrvatska","t":2013.240,"v":363},{"s":"Hrvatska","t":2013.264,"v":346},{"s":"Hrvatska","t":2013.287,"v":322},{"s":"Hrvatska","t":2013.313,"v":297},{"s":"Hrvatska","t":2013.346,"v":281},{"s":"Hrvatska","t":2013.379,"v":285},{"s":"Hrvatska","t":2013.412,"v":297},{"s":"Hrvatska","t":2013.445,"v":342},{"s":"Hrvatska","t":2013.471,"v":375},{"s":"Hrvatska","t":2013.495,"v":346},{"s":"Hrvatska","t":2013.518,"v":322},{"s":"Hrvatska","t":2013.544,"v":313},{"s":"Hrvatska","t":2013.570,"v":342},{"s":"Hrvatska","t":2013.594,"v":322},{"s":"Hrvatska","t":2013.617,"v":342},{"s":"Hrvatska","t":2013.643,"v":359},{"s":"Hrvatska","t":2013.669,"v":338},{"s":"Hrvatska","t":2013.693,"v":322},{"s":"Hrvatska","t":2013.716,"v":355},{"s":"Hrvatska","t":2013.742,"v":338},{"s":"Hrvatska","t":2013.769,"v":346},{"s":"Hrvatska","t":2013.795,"v":322},{"s":"Hrvatska","t":2013.825,"v":346},{"s":"Hrvatska","t":2013.858,"v":355},{"s":"Hrvatska","t":2013.884,"v":387},{"s":"Hrvatska","t":2013.914,"v":385},{"s":"Hrvatska","t":2013.940,"v":365},{"s":"Hrvatska","t":2013.967,"v":360},{"s":"Hrvatska","t":2013.993,"v":342},{"s":"Hrvatska","t":2014.023,"v":346},{"s":"Hrvatska","t":2014.056,"v":359},{"s":"Hrvatska","t":2014.089,"v":346},{"s":"Hrvatska","t":2014.122,"v":338},{"s":"Hrvatska","t":2014.155,"v":330},{"s":"Hrvatska","t":2014.188,"v":322},{"s":"Hrvatska","t":2014.221,"v":313},{"s":"Hrvatska","t":2014.254,"v":322},{"s":"Hrvatska","t":2014.287,"v":326},{"s":"Hrvatska","t":2014.313,"v":318},{"s":"Hrvatska","t":2014.343,"v":289},{"s":"Hrvatska","t":2014.376,"v":270},{"s":"Hrvatska","t":2014.402,"v":245},{"s":"Hrvatska","t":2014.429,"v":236},{"s":"Hrvatska","t":2014.472,"v":248},{"s":"Hrvatska","t":2014.505,"v":264},{"s":"Hrvatska","t":2014.538,"v":260},{"s":"Hrvatska","t":2014.571,"v":281},{"s":"Hrvatska","t":2014.604,"v":268},{"s":"Hrvatska","t":2014.637,"v":252},{"s":"Hrvatska","t":2014.670,"v":256},{"s":"Hrvatska","t":2014.703,"v":248},{"s":"Hrvatska","t":2014.736,"v":264},{"s":"Hrvatska","t":2014.769,"v":260},{"s":"Hrvatska","t":2014.802,"v":281},{"s":"Hrvatska","t":2014.835,"v":260},{"s":"Hrvatska","t":2014.868,"v":256},{"s":"Hrvatska","t":2014.901,"v":252},{"s":"Hrvatska","t":2014.927,"v":248},{"s":"Hrvatska","t":2014.944,"v":313},{"s":"Hrvatska","t":2014.960,"v":281},{"s":"Hrvatska","t":2015.000,"v":281},{"s":"Hrvatska","t":2015.033,"v":285},{"s":"Hrvatska","t":2015.066,"v":276},{"s":"Hrvatska","t":2015.099,"v":272},{"s":"Hrvatska","t":2015.132,"v":268},{"s":"Hrvatska","t":2015.165,"v":260},{"s":"Hrvatska","t":2015.198,"v":268},{"s":"Hrvatska","t":2015.231,"v":260},{"s":"Hrvatska","t":2015.264,"v":272},{"s":"Hrvatska","t":2015.297,"v":264},{"s":"Hrvatska","t":2015.330,"v":276},{"s":"Hrvatska","t":2015.363,"v":268},{"s":"Hrvatska","t":2015.396,"v":276},{"s":"Hrvatska","t":2015.429,"v":272},{"s":"Hrvatska","t":2015.462,"v":281},{"s":"Hrvatska","t":2015.502,"v":297},{"s":"Hrvatska","t":2015.528,"v":268},{"s":"Hrvatska","t":2015.561,"v":276},{"s":"Hrvatska","t":2015.594,"v":272},{"s":"Hrvatska","t":2015.627,"v":285},{"s":"Hrvatska","t":2015.660,"v":276},{"s":"Hrvatska","t":2015.693,"v":281},{"s":"Hrvatska","t":2015.726,"v":301},{"s":"Hrvatska","t":2015.759,"v":297},{"s":"Hrvatska","t":2015.792,"v":293},{"s":"Hrvatska","t":2015.825,"v":309},{"s":"Hrvatska","t":2015.851,"v":317},{"s":"Hrvatska","t":2015.875,"v":301},{"s":"Hrvatska","t":2015.908,"v":305},{"s":"Hrvatska","t":2015.941,"v":297},{"s":"Hrvatska","t":2015.993,"v":293},{"s":"Hrvatska","t":2016.026,"v":309},{"s":"Hrvatska","t":2016.059,"v":313},{"s":"Hrvatska","t":2016.092,"v":301},{"s":"Hrvatska","t":2016.109,"v":313},{"s":"Hrvatska","t":2016.132,"v":285},{"s":"Hrvatska","t":2016.158,"v":281},{"s":"Hrvatska","t":2016.191,"v":272},{"s":"Hrvatska","t":2016.224,"v":264},{"s":"Hrvatska","t":2016.257,"v":268},{"s":"Hrvatska","t":2016.290,"v":256},{"s":"Hrvatska","t":2016.323,"v":248},{"s":"Hrvatska","t":2016.356,"v":252},{"s":"Hrvatska","t":2016.389,"v":256},{"s":"Hrvatska","t":2016.422,"v":256},{"s":"Hrvatska","t":2016.448,"v":276},{"s":"Hrvatska","t":2016.472,"v":248},{"s":"Hrvatska","t":2016.505,"v":244},{"s":"Hrvatska","t":2016.538,"v":240},{"s":"Hrvatska","t":2016.571,"v":232},{"s":"Hrvatska","t":2016.604,"v":219},{"s":"Hrvatska","t":2016.637,"v":215},{"s":"Hrvatska","t":2016.670,"v":207},{"s":"Hrvatska","t":2016.703,"v":199},{"s":"Hrvatska","t":2016.736,"v":195},{"s":"Hrvatska","t":2016.769,"v":203},{"s":"Hrvatska","t":2016.802,"v":199},{"s":"Hrvatska","t":2016.835,"v":203},{"s":"Hrvatska","t":2016.861,"v":227},{"s":"Hrvatska","t":2016.884,"v":232},{"s":"Hrvatska","t":2016.917,"v":223},{"s":"Hrvatska","t":2016.950,"v":219},{"s":"Hrvatska","t":2016.976,"v":223},{"s":"Hrvatska","t":2016.999,"v":211},{"s":"Hrvatska","t":2017.033,"v":199},{"s":"Hrvatska","t":2017.066,"v":195},{"s":"Hrvatska","t":2017.099,"v":186},{"s":"Hrvatska","t":2017.132,"v":182},{"s":"Hrvatska","t":2017.165,"v":178},{"s":"Hrvatska","t":2017.198,"v":182},{"s":"Hrvatska","t":2017.231,"v":174},{"s":"Hrvatska","t":2017.264,"v":174},{"s":"Hrvatska","t":2017.297,"v":166},{"s":"Hrvatska","t":2017.330,"v":170},{"s":"Hrvatska","t":2017.363,"v":162},{"s":"Hrvatska","t":2017.396,"v":166},{"s":"Hrvatska","t":2017.413,"v":164},{"s":"Hrvatska","t":2017.463,"v":154},{"s":"Hrvatska","t":2017.512,"v":145},{"s":"Hrvatska","t":2017.562,"v":139},{"s":"Hrvatska","t":2017.611,"v":133},{"s":"Hrvatska","t":2017.661,"v":121},{"s":"Hrvatska","t":2017.710,"v":115},{"s":"Hrvatska","t":2017.776,"v":109},{"s":"Hrvatska","t":2017.842,"v":104},{"s":"Hrvatska","t":2017.908,"v":102},{"s":"Hrvatska","t":2017.974,"v":96},{"s":"Hrvatska","t":2018.040,"v":90},{"s":"Hrvatska","t":2018.106,"v":88},{"s":"Hrvatska","t":2018.172,"v":90},{"s":"Hrvatska","t":2018.238,"v":92},{"s":"Hrvatska","t":2018.304,"v":96},{"s":"Hrvatska","t":2018.370,"v":102},{"s":"Hrvatska","t":2018.420,"v":109},{"s":"Hrvatska","t":2018.469,"v":111},{"s":"Hrvatska","t":2018.519,"v":100},{"s":"Hrvatska","t":2018.568,"v":94},{"s":"Hrvatska","t":2018.618,"v":96},{"s":"Hrvatska","t":2018.667,"v":98},{"s":"Hrvatska","t":2018.717,"v":100},{"s":"Hrvatska","t":2018.753,"v":98}
],
"gr": [
{"s":"Grčka - desno","t":2013.000,"v":4200},{"s":"Grčka - desno","t":2013.023,"v":4760},{"s":"Grčka - desno","t":2013.049,"v":4480},{"s":"Grčka - desno","t":2013.082,"v":4387},{"s":"Grčka - desno","t":2013.115,"v":4107},{"s":"Grčka - desno","t":2013.148,"v":3920},{"s":"Grčka - desno","t":2013.165,"v":3967},{"s":"Grčka - desno","t":2013.379,"v":3967},{"s":"Grčka - desno","t":2013.389,"v":1260},{"s":"Grčka - desno","t":2013.412,"v":1073},{"s":"Grčka - desno","t":2013.478,"v":1027},{"s":"Grčka - desno","t":2013.544,"v":1027},{"s":"Grčka - desno","t":2013.610,"v":1073},{"s":"Grčka - desno","t":2013.676,"v":1167},{"s":"Grčka - desno","t":2013.742,"v":933},{"s":"Grčka - desno","t":2013.808,"v":840},{"s":"Grčka - desno","t":2013.874,"v":700},{"s":"Grčka - desno","t":2013.940,"v":700},{"s":"Grčka - desno","t":2014.006,"v":653},{"s":"Grčka - desno","t":2014.072,"v":560},{"s":"Grčka - desno","t":2014.138,"v":513},{"s":"Grčka - desno","t":2014.204,"v":420},{"s":"Grčka - desno","t":2014.270,"v":467},{"s":"Grčka - desno","t":2014.336,"v":560},{"s":"Grčka - desno","t":2014.402,"v":513},{"s":"Grčka - desno","t":2014.468,"v":467},{"s":"Grčka - desno","t":2014.538,"v":467},{"s":"Grčka - desno","t":2014.637,"v":467},{"s":"Grčka - desno","t":2014.736,"v":560},{"s":"Grčka - desno","t":2014.835,"v":747},{"s":"Grčka - desno","t":2014.901,"v":840},{"s":"Grčka - desno","t":2014.934,"v":1073},{"s":"Grčka - desno","t":2014.967,"v":1260},{"s":"Grčka - desno","t":2015.000,"v":1353},{"s":"Grčka - desno","t":2015.033,"v":1633},{"s":"Grčka - desno","t":2015.066,"v":1820},{"s":"Grčka - desno","t":2015.099,"v":2193},{"s":"Grčka - desno","t":2015.132,"v":2380},{"s":"Grčka - desno","t":2015.165,"v":2287},{"s":"Grčka - desno","t":2015.198,"v":2660},{"s":"Grčka - desno","t":2015.231,"v":2987},{"s":"Grčka - desno","t":2015.264,"v":3173},{"s":"Grčka - desno","t":2015.290,"v":4107},{"s":"Grčka - desno","t":2015.303,"v":3547},{"s":"Grčka - desno","t":2015.330,"v":2753},{"s":"Grčka - desno","t":2015.363,"v":2987},{"s":"Grčka - desno","t":2015.396,"v":3173},{"s":"Grčka - desno","t":2015.429,"v":3360},{"s":"Grčka - desno","t":2015.462,"v":3733},{"s":"Grčka - desno","t":2015.479,"v":2987},{"s":"Grčka - desno","t":2015.495,"v":5460},{"s":"Grčka - desno","t":2015.512,"v":8550},{"s":"Grčka - desno","t":2015.521,"v":3547},{"s":"Grčka - desno","t":2015.535,"v":2007},{"s":"Grčka - desno","t":2015.561,"v":2567},{"s":"Grčka - desno","t":2015.594,"v":2193},{"s":"Grčka - desno","t":2015.627,"v":2007},{"s":"Grčka - desno","t":2015.660,"v":1633},{"s":"Grčka - desno","t":2015.693,"v":1447},{"s":"Grčka - desno","t":2015.759,"v":1260},{"s":"Grčka - desno","t":2015.825,"v":1167},{"s":"Grčka - desno","t":2015.891,"v":1073},{"s":"Grčka - desno","t":2015.964,"v":1073},{"s":"Grčka - desno","t":2015.993,"v":1167},{"s":"Grčka - desno","t":2016.059,"v":1260},{"s":"Grčka - desno","t":2016.109,"v":1633},{"s":"Grčka - desno","t":2016.142,"v":1353},{"s":"Grčka - desno","t":2016.191,"v":1260},{"s":"Grčka - desno","t":2016.257,"v":1167},{"s":"Grčka - desno","t":2016.323,"v":1260},{"s":"Grčka - desno","t":2016.389,"v":1073},{"s":"Grčka - desno","t":2016.455,"v":1073},{"s":"Grčka - desno","t":2016.521,"v":933},{"s":"Grčka - desno","t":2016.587,"v":1073},{"s":"Grčka - desno","t":2016.653,"v":933},{"s":"Grčka - desno","t":2016.719,"v":1073},{"s":"Grčka - desno","t":2016.785,"v":1027},{"s":"Grčka - desno","t":2016.851,"v":1073},{"s":"Grčka - desno","t":2016.917,"v":1073},{"s":"Grčka - desno","t":2016.983,"v":1073},{"s":"Grčka - desno","t":2017.049,"v":1027},{"s":"Grčka - desno","t":2017.115,"v":933},{"s":"Grčka - desno","t":2017.181,"v":840},{"s":"Grčka - desno","t":2017.247,"v":747},{"s":"Grčka - desno","t":2017.313,"v":653},{"s":"Grčka - desno","t":2017.379,"v":653},{"s":"Grčka - desno","t":2017.413,"v":560},{"s":"Grčka - desno","t":2017.578,"v":467},{"s":"Grčka - desno","t":2017.743,"v":373},{"s":"Grčka - desno","t":2017.908,"v":327},{"s":"Grčka - desno","t":2018.073,"v":280},{"s":"Grčka - desno","t":2018.238,"v":327},{"s":"Grčka - desno","t":2018.403,"v":373},{"s":"Grčka - desno","t":2018.568,"v":373},{"s":"Grčka - desno","t":2018.753,"v":420}
]
},
"layer": [
{
"data": {"name": "left"},
"mark": {"type": "line", "strokeWidth": 3.5, "strokeJoin": "round"},
"encoding": {
"x": {"field": "t", "type": "quantitative", "scale": {"domain": [2013, 2019], "nice": false, "zero": false},
 "axis": {"title": null, "values": [2013, 2014, 2015, 2016, 2017, 2018, 2019], "labelExpr": "datum.value < 2019 ? datum.value + '.' : ''", "labelOffset": 50.4, "labelFontSize": 23, "labelPadding": 6, "tickSize": 8, "tickColor": "#868686", "tickWidth": 1.5, "domainColor": "#868686", "domainWidth": 1.5, "grid": true, "gridColor": "#c3c3c3", "gridWidth": 1.3, "labelFlush": false, "labelOverlap": false, "labelBound": false}},
"y": {"field": "v", "type": "quantitative", "scale": {"domain": [0, 600], "nice": false},
 "axis": {"title": "bazni bodovi", "titleFontSize": 23, "titlePadding": 32, "values": [0, 100, 200, 300, 400, 500, 600], "labelFontSize": 23, "labelPadding": 22, "ticks": false, "domain": false, "grid": true, "gridColor": "#c3c3c3", "gridWidth": 1.3}},
"color": {"field": "s", "type": "nominal",
 "scale": {"domain": ["Portugal", "Rumunjska", "Slovenija", "Španjolska", "Njemačka", "Italija", "Hrvatska", "Grčka - desno"], "range": ["#ED7D31", "#808080", "#990000", "#0000FF", "#00A6F2", "#7030A0", "#FF0000", "#548235"]},
 "legend": {"title": null, "orient": "none", "direction": "horizontal", "legendX": -71, "legendY": 552, "columns": 3, "gridAlign": "all", "columnPadding": 12, "rowPadding": 1.5, "symbolType": "M-2,0H2", "symbolSize": 700, "symbolStrokeWidth": 4.5, "symbolFillColor": "transparent", "labelFontSize": 26, "labelColor": "black", "labelOffset": 19, "labelLimit": 400}}
}
},
{
"data": {"name": "gr"},
"mark": {"type": "line", "strokeWidth": 3.5, "strokeJoin": "round"},
"encoding": {
"x": {"field": "t", "type": "quantitative"},
"y": {"field": "v", "type": "quantitative", "scale": {"domain": [0, 28000], "nice": false},
 "axis": {"orient": "right", "title": "bazni bodovi", "titleFontSize": 23, "titleAngle": -90, "titleBaseline": "top", "titlePadding": 22, "values": [0, 4000, 8000, 12000, 16000, 20000, 24000, 28000], "labelExpr": "replace(format(datum.value, ','), ',', '.')", "labelFontSize": 23, "labelPadding": 21, "ticks": false, "domain": false, "grid": false}},
"color": {"field": "s", "type": "nominal"}
}
}
],
"resolve": {"scale": {"y": "independent"}}
}
